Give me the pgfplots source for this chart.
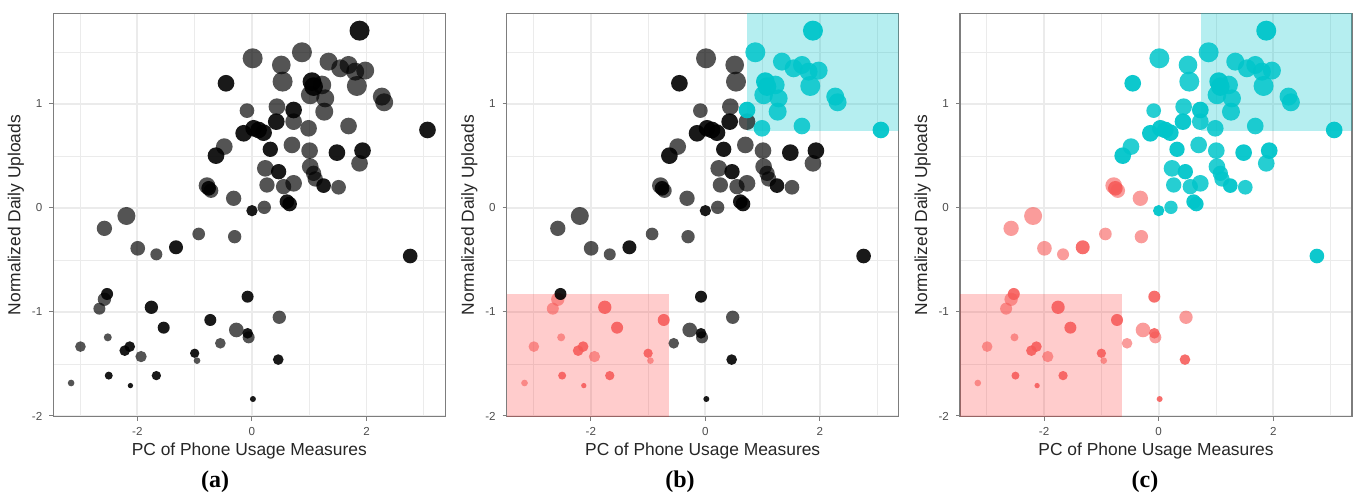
\documentclass[border=0pt]{standalone}
\usepackage{fontspec}
\setmainfont{Liberation Sans}
\newfontfamily\subfont{Liberation Serif}
\usepackage{pgfplots}
\usepackage{pgfplotstable}
\pgfplotsset{compat=1.18}
\definecolor{gred}{RGB}{246,90,88}
\definecolor{gcyan}{RGB}{0,197,202}
\definecolor{gridc}{RGB}{235,235,235}
\definecolor{tickc}{RGB}{77,77,77}
\definecolor{framec}{RGB}{125,125,125}

\pgfplotstableread{
x y s a b c
1.878 1.705 30 2 2 2
0.872 1.497 30 1 2 2
0.012 1.439 30 1 0 2
0.512 1.375 28 1 0 2
0.535 1.215 30 1 0 2
-0.453 1.199 25 2 0 2
1.337 1.407 27 1 2 2
1.541 1.343 27 1 2 2
1.686 1.375 27 1 2 2
1.802 1.311 27 1 2 2
1.977 1.321 27 1 2 2
1.831 1.173 30 1 2 2
1.047 1.215 28 2 2 2
1.076 1.167 28 2 2 2
1.221 1.183 28 1 2 2
1.017 1.087 28 1 2 2
1.279 1.054 27 1 2 2
1.262 0.926 27 1 2 2
2.267 1.071 27 1 2 2
2.308 1.016 27 1 2 2
3.064 0.750 25 2 2 2
-0.087 0.936 22 1 0 2
0.436 0.974 25 1 0 2
0.727 0.942 25 2 2 2
0.424 0.830 25 2 0 2
0.727 0.830 25 1 0 2
0.988 0.766 25 1 2 2
1.686 0.788 25 1 2 2
-0.145 0.718 25 2 0 2
0.029 0.766 25 2 0 2
0.116 0.750 25 2 0 2
0.203 0.724 25 2 0 2
-0.483 0.590 25 1 0 2
-0.628 0.503 25 2 0 2
0.320 0.564 23 2 0 2
0.698 0.606 25 1 0 2
1.006 0.551 25 1 0 2
1.483 0.532 25 2 0 2
1.930 0.551 25 2 0 2
1.878 0.429 25 1 0 2
0.233 0.381 25 1 0 2
0.465 0.349 23 2 0 2
1.017 0.397 25 1 0 2
1.076 0.333 23 1 0 2
1.105 0.279 23 1 0 2
1.250 0.215 22 2 0 2
1.512 0.199 22 1 0 2
0.262 0.221 23 1 0 2
0.552 0.205 23 1 0 2
0.727 0.237 25 1 0 2
-0.785 0.215 25 1 0 1
-0.756 0.189 22 2 0 1
-0.715 0.167 22 1 0 1
-0.320 0.093 23 1 0 1
0.610 0.061 22 2 0 2
0.657 0.038 22 2 0 2
0.215 0.006 20 1 0 2
0.000 -0.026 17 2 0 2
-2.192 -0.077 27 1 0 1
-2.576 -0.196 23 1 0 1
-0.930 -0.250 19 1 0 1
-0.302 -0.276 20 1 0 1
-1.994 -0.388 22 1 0 1
-1.669 -0.446 18 1 0 1
-1.326 -0.378 21 2 0 1
2.762 -0.462 22 2 0 2
-2.529 -0.827 18 2 0 1
-2.576 -0.878 20 1 1 1
-2.663 -0.968 18 1 1 1
-1.756 -0.955 20 2 1 1
-0.076 -0.853 18 2 0 1
0.477 -1.051 20 1 0 1
-0.727 -1.077 18 2 1 1
-1.541 -1.151 18 2 1 1
-0.273 -1.173 22 1 0 1
-0.076 -1.205 16 2 0 1
-0.058 -1.244 18 1 0 1
-2.517 -1.244 12 1 1 1
-2.994 -1.333 16 1 1 1
-2.134 -1.333 16 2 1 1
-2.221 -1.372 16 2 1 1
-1.936 -1.429 17 1 1 1
-0.552 -1.301 16 1 0 1
-1.000 -1.397 14 2 1 1
-0.959 -1.468 10 1 1 1
0.459 -1.458 16 2 0 1
-2.500 -1.612 12 2 1 1
-1.669 -1.612 14 2 1 1
-3.157 -1.683 10 1 1 1
-2.122 -1.708 8 2 1 1
0.017 -1.837 9 2 0 1
}\pts

\pgfplotsset{
  panel/.style={
    scale only axis, width=196pt, height=201.7pt,
    xmin=-3.468, xmax=3.375, ymin=-2.007, ymax=1.872,
    xtick={-2,0,2}, ytick={-2,-1,0,1},
    minor xtick={-3,-1,1,3}, minor ytick={-1.5,-0.5,0.5,1.5},
    grid=both,
    major grid style={gridc, line width=0.9pt},
    minor grid style={gridc, line width=0.45pt},
    axis line style={framec, line width=0.6pt},
    tick align=outside, tick pos=left,
    major tick length=2pt, minor tick length=0pt,
    major tick style={framec, line width=0.5pt},
    tick label style={font=\fontsize{5.8pt}{6pt}\selectfont, text=tickc},
    /pgf/number format/assume math mode=true,
    xlabel={PC of Phone Usage Measures},
    ylabel={Normalized Daily Uploads},
    label style={font=\fontsize{8.7pt}{10pt}\selectfont, text=black!85},
    xlabel style={at={(axis description cs:0.5,-0.0974)}, anchor=base},
    ylabel style={at={(axis description cs:-0.0837,0.5)}, anchor=base},
  },
  dots/.style n args={4}{
    scatter, only marks, mark=*,
    restrict expr to domain={#1}{#2},
    mark options={draw opacity=0, line width=0pt},
    scatter/use mapped color={draw=#3, draw opacity=0, fill=#3, fill opacity=#4},
    visualization depends on={\thisrow{s}/6 \as \msize},
    scatter/@pre marker code/.append style={/tikz/mark size=\msize},
  },
}

\begin{document}
\begin{tikzpicture}
\path[use as bounding box] (0,0) rectangle (677.5pt,251pt);

% (a)
\begin{axis}[panel, at={(26.65pt,42.65pt)}, anchor=south west]
\addplot[dots={\thisrow{a}}{0.5:1.5}{black}{0.67}] table {\pts};
\addplot[dots={\thisrow{a}}{1.5:2.5}{black}{0.9}] table {\pts};
\end{axis}

% (b)
\begin{axis}[panel, at={(253.35pt,42.65pt)}, anchor=south west]
\addplot[draw=none, fill=red, fill opacity=0.2] coordinates {(-3.468,-2.007) (-0.635,-2.007) (-0.635,-0.827) (-3.468,-0.827)} -- cycle;
\addplot[draw=none, fill=gcyan, fill opacity=0.29] coordinates {(0.735,0.74) (3.375,0.74) (3.375,1.872) (0.735,1.872)} -- cycle;
\addplot[dots={10*\thisrow{b}+\thisrow{a}}{0.5:1.5}{black}{0.67}] table {\pts};
\addplot[dots={10*\thisrow{b}+\thisrow{a}}{10.5:11.5}{gred}{0.6}] table {\pts};
\addplot[dots={10*\thisrow{b}+\thisrow{a}}{11.5:12.5}{gred}{0.88}] table {\pts};
\addplot[dots={10*\thisrow{b}+\thisrow{a}}{20.5:21.5}{gcyan}{0.85}] table {\pts};
\addplot[dots={10*\thisrow{b}+\thisrow{a}}{21.5:22.5}{gcyan}{0.95}] table {\pts};
\addplot[dots={10*\thisrow{b}+\thisrow{a}}{1.5:2.5}{black}{0.9}] table {\pts};
\end{axis}

% (c)
\begin{axis}[panel, at={(480pt,42.65pt)}, anchor=south west]
\addplot[draw=none, fill=red, fill opacity=0.2] coordinates {(-3.468,-2.007) (-0.635,-2.007) (-0.635,-0.827) (-3.468,-0.827)} -- cycle;
\addplot[draw=none, fill=gcyan, fill opacity=0.29] coordinates {(0.735,0.74) (3.375,0.74) (3.375,1.872) (0.735,1.872)} -- cycle;
\addplot[dots={10*\thisrow{c}+\thisrow{a}}{10.5:11.5}{gred}{0.6}] table {\pts};
\addplot[dots={10*\thisrow{c}+\thisrow{a}}{11.5:12.5}{gred}{0.88}] table {\pts};
\addplot[dots={10*\thisrow{c}+\thisrow{a}}{20.5:21.5}{gcyan}{0.85}] table {\pts};
\addplot[dots={10*\thisrow{c}+\thisrow{a}}{21.5:22.5}{gcyan}{0.95}] table {\pts};
\end{axis}

\node[font=\subfont\bfseries\fontsize{12pt}{14pt}\selectfont, anchor=base] at (107.5pt,7pt) {(a)};
\node[font=\subfont\bfseries\fontsize{12pt}{14pt}\selectfont, anchor=base] at (340pt,7pt) {(b)};
\node[font=\subfont\bfseries\fontsize{12pt}{14pt}\selectfont, anchor=base] at (572.5pt,7pt) {(c)};
\end{tikzpicture}
\end{document}
